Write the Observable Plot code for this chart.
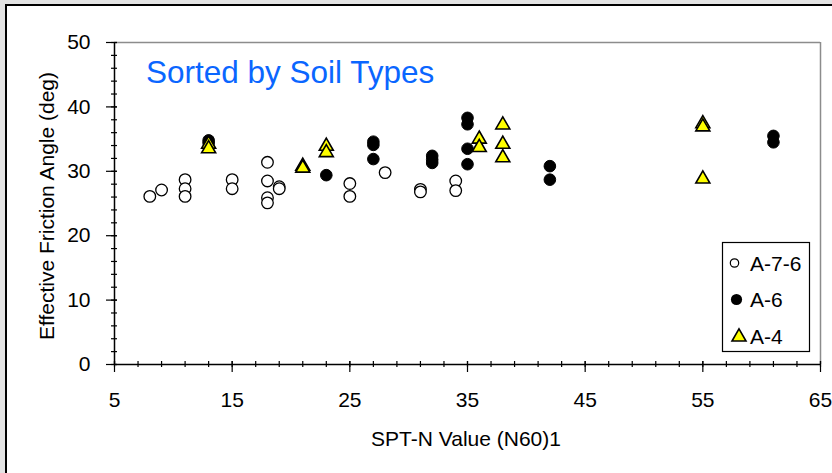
<!DOCTYPE html>
<html><head><meta charset="utf-8">
<script src="https://cdn.jsdelivr.net/npm/d3@7"></script>
<script src="https://cdn.jsdelivr.net/npm/@observablehq/plot@0.6"></script>
<style>
html,body{margin:0;padding:0;width:832px;height:473px;overflow:hidden;background:#e3e3e3;}
#panel{position:absolute;left:5px;top:4px;width:900px;height:600px;background:#fff;border-left:2px solid #000;border-top:2px solid #000;}
#chart{position:absolute;left:0;top:0;}
</style></head><body><div id="panel"></div><div id="chart"></div>
<script>
// ---- data ----
const seriesNames = ["A-7-6", "A-6", "A-4"];
const a76x = [8, 9, 11, 11, 11, 15, 15, 18, 18, 18, 18, 19, 19, 25, 25, 28, 31, 31, 34, 34];
const a76y = [26.1, 27.1, 28.7, 27.3, 26.1, 28.7, 27.3, 31.4, 28.5, 25.9, 25.1, 27.6, 27.3, 28.1, 26.1, 29.8, 27.2, 26.8, 28.5, 27.0];
const a6x = [13, 13, 23, 27, 27, 27, 32, 32, 32, 35, 35, 35, 35, 42, 42, 61, 61];
const a6y = [34.8, 34.4, 29.4, 34.6, 34.1, 31.9, 32.4, 31.8, 31.3, 38.3, 37.3, 33.5, 31.1, 30.8, 28.7, 35.5, 34.5];
const a4x = [13, 13, 21, 21, 23, 23, 36, 36, 38, 38, 38, 55, 55, 55];
const a4y = [34.2, 33.5, 30.8, 30.5, 33.9, 32.9, 35.0, 33.7, 37.2, 34.2, 32.1, 37.4, 36.9, 28.8];
const xMajor = [5, 15, 25, 35, 45, 55, 65];
const xMinor = d3.range(5, 66, 2);
const yMajor = [0, 10, 20, 30, 40, 50];
const yMinor = d3.range(0, 51, 2);
const titleText = "Sorted by Soil Types";
const xLabel = "SPT-N Value (N60)1";
const yLabel = "Effective Friction Angle (deg)";

const zip = (xs, ys) => xs.map((x, i) => ({x, y: ys[i]}));
const d76 = zip(a76x, a76y), d6 = zip(a6x, a6y), d4 = zip(a4x, a4y);
const FONT = "'Liberation Sans', Arial, Helvetica, sans-serif";

const plot = Plot.plot({
  width: 832, height: 473,
  marginLeft: 114, marginRight: 12, marginTop: 42, marginBottom: 109,
  x: {domain: [5, 65]},
  y: {domain: [0, 50]},
  style: {background: "transparent", fontFamily: FONT, fontSize: "21px", color: "#000", overflow: "visible"},
  marks: [
    Plot.ruleY([50], {stroke: "#8c8c8c", strokeWidth: 1.5}),
    Plot.ruleX([65], {stroke: "#8c8c8c", strokeWidth: 1.5}),
    Plot.axisX({ticks: xMinor, tickSize: 6, dy: -3, text: null, label: null, strokeWidth: 1.2}),
    Plot.axisX({ticks: xMajor, tickSize: 11, dy: -3, text: null, label: null, strokeWidth: 1.2}),
    Plot.axisX({ticks: xMajor, tickSize: 0, tickPadding: 28, label: null, tickFormat: d => String(d), fontSize: 21}),
    Plot.axisY({ticks: yMinor, tickSize: 6, dx: 3, text: null, label: null, strokeWidth: 1.2}),
    Plot.axisY({ticks: yMajor, tickSize: 11, dx: 3, text: null, label: null, strokeWidth: 1.2}),
    Plot.axisY({ticks: yMajor, tickSize: 0, tickPadding: 24, label: null, tickFormat: d => String(d), fontSize: 21}),
    Plot.ruleY([0], {stroke: "#000", strokeWidth: 1.5}),
    Plot.ruleX([5], {stroke: "#000", strokeWidth: 1.5}),
    Plot.dot(d76, {x: "x", y: "y", r: 5.8, fill: "#fff", stroke: "#000", strokeWidth: 1.3}),
    Plot.dot(d6, {x: "x", y: "y", r: 5.8, fill: "#000", stroke: "#000", strokeWidth: 1}),
    Plot.dot(d4, {x: "x", y: "y", symbol: "triangle", r: 5.2, fill: "#ffff00", stroke: "#000", strokeWidth: 1.6})
  ]
});
document.getElementById("chart").appendChild(plot);

const svg = d3.select(plot);
// title
svg.append("text").attr("x", 146).attr("y", 82.5).attr("text-anchor", "start")
  .attr("font-family", FONT).attr("font-size", 31.5).attr("fill", "#0a66ff")
  .text(titleText);
// axis labels
svg.append("text").attr("transform", `translate(466,446)`)
  .attr("text-anchor", "middle").attr("font-family", FONT).attr("font-size", 21).text(xLabel);
svg.append("text").attr("transform", `translate(54,206) rotate(-90)`)
  .attr("text-anchor", "middle").attr("font-family", FONT).attr("font-size", 21).text(yLabel);

// legend
const lg = svg.append("g");
lg.append("rect").attr("x", 722.5).attr("y", 242.5).attr("width", 87).attr("height", 109)
  .attr("fill", "#fff").attr("stroke", "#000").attr("stroke-width", 1.2);
const rows = [263, 299.5, 336];
lg.append("circle").attr("cx", 734.5).attr("cy", rows[0]).attr("r", 4.2).attr("fill", "#fff").attr("stroke", "#000").attr("stroke-width", 1.2);
lg.append("circle").attr("cx", 736.5).attr("cy", rows[1]).attr("r", 5.6).attr("fill", "#000");
lg.append("path").attr("d", d3.symbol(d3.symbolTriangle, Math.PI * 27)()).attr("transform", `translate(739,${rows[2] + 1})`)
  .attr("fill", "#ffff00").attr("stroke", "#000").attr("stroke-width", 1.6);
seriesNames.forEach((n, i) => {
  lg.append("text").attr("x", 750).attr("y", rows[i]).attr("text-anchor", "start")
    .attr("dy", "0.36em").attr("font-family", FONT).attr("font-size", 21).text(n);
});
</script></body></html>
